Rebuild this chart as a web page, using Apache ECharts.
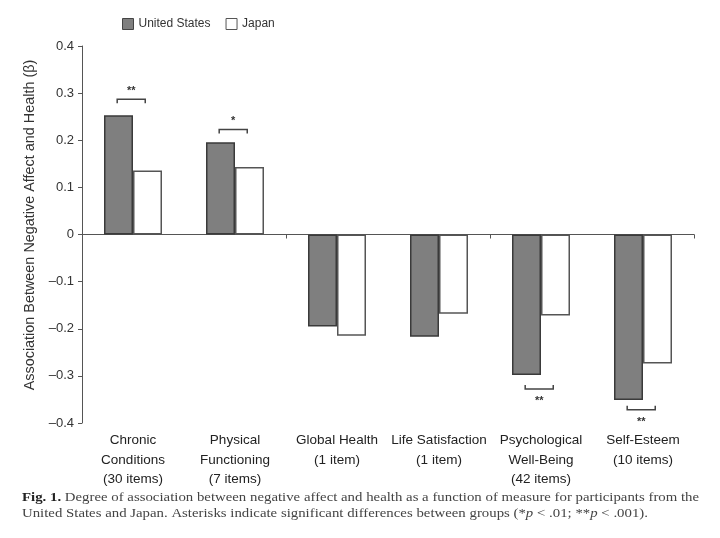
<!DOCTYPE html>
<html><head><meta charset="utf-8">
<script src="https://cdn.jsdelivr.net/npm/echarts@6/dist/echarts.min.js"></script>
<style>html,body{margin:0;padding:0;background:#fff}#c{width:720px;height:538px}</style>
</head><body><div id="c"></div>
<script>
const categories = ['Chronic\nConditions\n(30 items)','Physical\nFunctioning\n(7 items)','Global Health\n(1 item)','Life Satisfaction\n(1 item)','Psychological\nWell-Being\n(42 items)','Self-Esteem\n(10 items)'];
const usValues = [0.253, 0.196, -0.195, -0.217, -0.298, -0.351];
const japanValues = [0.136, 0.143, -0.215, -0.168, -0.172, -0.274];
const sigCats = [0, 1, 4, 5];
const sigY = [0.287, 0.223, -0.328, -0.372];
const sigStars = ['**', '*', '**', '**'];
const yTicks = [-0.4, -0.3, -0.2, -0.1, 0, 0.1, 0.2, 0.3, 0.4];

const font = '"Liberation Sans", Arial, sans-serif';
const serif = '"Liberation Serif", "DejaVu Serif", serif';
const chart = echarts.init(document.getElementById('c'));
chart.setOption({
  animation: false,
  backgroundColor: '#fff',
  textStyle: { fontFamily: font },
  legend: {
    top: 13, left: 117, itemWidth: 11, itemHeight: 11, itemGap: 15,
    textStyle: { fontFamily: font, fontSize: 12, color: '#333' },
    data: [
      { name: 'United States', icon: 'rect', itemStyle: { color: '#7f7f7f', borderColor: '#444', borderWidth: 1 } },
      { name: 'Japan', icon: 'rect', itemStyle: { color: '#fff', borderColor: '#555', borderWidth: 1 } }
    ]
  },
  grid: { left: 82, right: 26, top: 46, bottom: 115 },
  xAxis: [
    { type: 'category', data: categories, position: 'bottom',
      axisLine: { onZero: true, lineStyle: { color: '#555', width: 1 } },
      axisTick: { show: true, length: 4, lineStyle: { color: '#555' } },
      axisLabel: { show: false } },
    { type: 'category', data: categories, position: 'bottom',
      axisLine: { show: false, onZero: false }, axisTick: { show: false },
      axisLabel: { show: true, margin: 8, fontFamily: font, fontSize: 13.5, color: '#222', lineHeight: 19.5, interval: 0 } }
  ],
  yAxis: {
    type: 'value', min: -0.4, max: 0.4, interval: 0.1,
    axisLine: { show: true, lineStyle: { color: '#555' } },
    axisTick: { show: true, length: 4, lineStyle: { color: '#555' } },
    splitLine: { show: false },
    axisLabel: { fontFamily: font, fontSize: 13, color: '#333', margin: 8,
      formatter: v => { const r = Math.round(v * 10) / 10; return r === 0 ? '0' : (r < 0 ? '\u2013' + Math.abs(r).toFixed(1) : r.toFixed(1)); } }
  },
  series: [
    { name: 'United States', type: 'bar', xAxisIndex: 0, data: usValues, barWidth: 29, barGap: '0%',
      itemStyle: { color: '#7f7f7f', borderColor: '#3a3a3a', borderWidth: 1.5 } },
    { name: 'Japan', type: 'bar', xAxisIndex: 0, data: japanValues, barWidth: 29, barGap: '0%',
      itemStyle: { color: '#fff', borderColor: '#555', borderWidth: 1.5 } },
    { name: 'sig', type: 'custom', xAxisIndex: 0,
      data: sigCats.map((c, i) => [c, sigY[i]]),
      renderItem: function (params, api) {
        const i = params.dataIndex;
        const p = api.coord([api.value(0), api.value(1)]);
        const w = api.size([1, 0])[0];
        const x1 = p[0] - 0.155 * w, x2 = p[0] + 0.12 * w;
        const up = api.value(1) > 0;
        const h = up ? 4 : -4;
        const ty = up ? p[1] - 8 : p[1] + 12;
        return { type: 'group', children: [
          { type: 'polyline', shape: { points: [[x1, p[1] + h], [x1, p[1]], [x2, p[1]], [x2, p[1] + h]] },
            style: { stroke: '#444', lineWidth: 1.5, fill: null } },
          { type: 'text', style: { text: sigStars[i], x: (x1 + x2) / 2, y: ty, align: 'center', verticalAlign: 'middle',
            fontSize: 11, fontWeight: 'bold', fill: '#333', fontFamily: font } }
        ] };
      }
    }
  ],
  graphic: [
    { type: 'text', x: 30, y: 225, rotation: Math.PI / 2, scaleX: 0.96,
      style: { text: 'Association Between Negative Affect and Health (β)', align: 'center', verticalAlign: 'middle',
        fontFamily: font, fontSize: 15, fill: '#333' } },
    { type: 'text', x: 22, y: 491, scaleX: 1.14, style: {
      text: '{b|Fig. 1.} Degree of association between negative affect and health as a function of measure for participants from the',
      fontFamily: serif, fontSize: 13, fill: '#444',
      rich: { b: { fontWeight: 'bold', fontFamily: serif, fontSize: 13, fill: '#222' } } } },
    { type: 'text', x: 22, y: 507, scaleX: 1.14, style: {
      text: 'United States and Japan. Asterisks indicate significant differences between groups (*{i|p} < .01; **{i|p} < .001).',
      fontFamily: serif, fontSize: 13, fill: '#444',
      rich: { i: { fontStyle: 'italic', fontFamily: serif, fontSize: 13, fill: '#444' } } } }
  ]
});
</script></body></html>
